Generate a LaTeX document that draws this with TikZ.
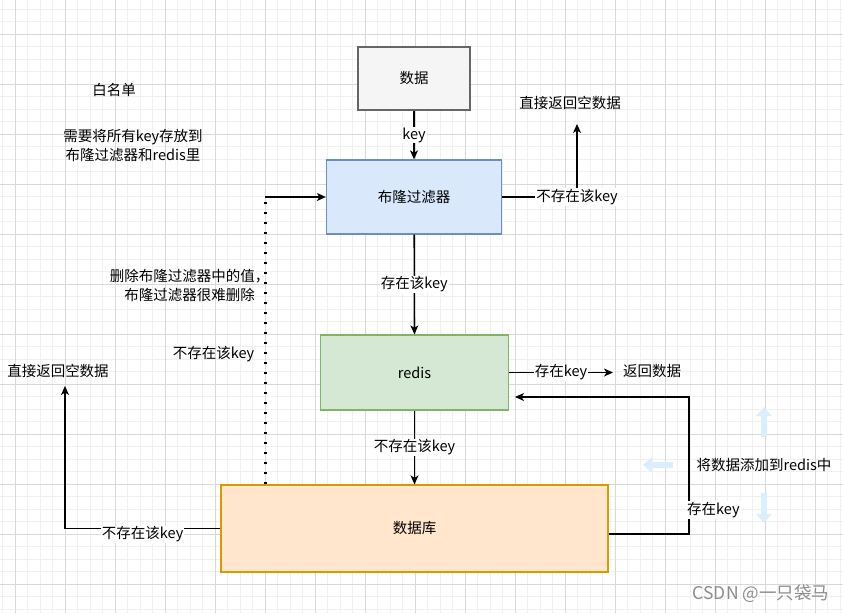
\documentclass[tikz,border=0pt]{standalone}
\usepackage{fontspec}
\setmainfont{Noto Sans CJK SC}
\usetikzlibrary{arrows.meta}
\definecolor{gridminor}{RGB}{240,240,240}
\definecolor{gridmajor}{RGB}{216,216,216}
\definecolor{srcfill}{HTML}{F5F5F5}
\definecolor{srcdraw}{HTML}{666666}
\definecolor{bffill}{HTML}{DAE8FC}
\definecolor{bfdraw}{HTML}{6C8EBF}
\definecolor{rdfill}{HTML}{D5E8D4}
\definecolor{rddraw}{HTML}{82B366}
\definecolor{dbfill}{HTML}{FFE6CC}
\definecolor{dbdraw}{HTML}{D79B00}
\definecolor{hint}{RGB}{218,238,252}
\definecolor{wm}{RGB}{140,140,140}
\begin{document}
\begin{tikzpicture}[x=1pt,y=-1pt,
  every node/.style={font=\fontsize{14.5}{19}\selectfont},
  box/.style={draw, line width=1.3pt, inner sep=0pt},
  arr/.style={line width=1.3pt, -{Stealth[length=9pt,width=8pt,inset=2.5pt]}},
  lbl/.style={fill=white, inner sep=1pt},
  txt/.style={align=center, inner sep=0pt},
  dotline/.style={line width=3pt, dash pattern=on 2.6pt off 7.4pt},
  hintarrow/.style={draw=hint, line width=6pt, -{Triangle[length=9pt,width=15pt]}},
]
\useasboundingbox (0,0) rectangle (843,613);
\fill[white] (0,0) rectangle (843,613);
% grid
\foreach \x in {2.5,15,...,843} \draw[gridminor, line width=1pt] (\x,0) -- (\x,613);
\foreach \y in {9,21.5,...,613} \draw[gridminor, line width=1pt] (0,\y) -- (843,\y);
\foreach \x in {15,65,...,843} \draw[gridmajor, line width=1pt] (\x,0) -- (\x,613);
\foreach \y in {34,84,...,613} \draw[gridmajor, line width=1pt] (0,\y) -- (843,\y);

% main boxes
\node[box, fill=srcfill, draw=srcdraw, minimum width=112pt, minimum height=63pt] (src) at (414,78.5) {数据};
\node[box, fill=bffill, draw=bfdraw, minimum width=175pt, minimum height=74pt] (bf) at (414,197) {布隆过滤器};
\node[box, fill=rdfill, draw=rddraw, minimum width=188pt, minimum height=75pt] (redis) at (414.5,372.5) {redis};
\node[box, fill=dbfill, draw=dbdraw, minimum width=387pt, minimum height=87pt] (db) at (414.5,528.5) {数据库};

% vertical flow
\draw[arr] (src) -- node[lbl]{key} (bf);
\draw[arr] (bf) -- node[lbl]{存在该key} (redis);
\draw[arr] (redis) -- node[lbl]{不存在该key} (db);

% bloom filter: not exist
\coordinate (t1) at (577,124);
\draw[arr] (bf.east) -| node[lbl,pos=0.5]{不存在该key} (t1);
\node[txt] (ret1) at (570,103) {直接返回空数据};

% redis: exists
\coordinate (t2) at (613,372.5);
\draw[arr] (redis.east) -- node[lbl]{存在key} (t2);
\node[txt] (ret2) at (652,371) {返回数据};

% db: exists -> back into redis
\coordinate (c1) at (689,534);
\coordinate (t3) at (515,397);
\draw[arr] (db.east |- c1) -- (c1) -- (c1 |- t3) -- (t3);
\node[lbl, anchor=west] (lblc1) at (686,510) {存在key};
\node[txt] (addtxt) at (764,465) {将数据添加到redis中};

% db: not exist
\coordinate (t4) at (65,386);
\draw[arr] (db.west) -| node[lbl,pos=0.25,yshift=-6pt]{不存在该key} (t4);
\node[txt] (ret3) at (58,371) {直接返回空数据};

% dotted delete path
\coordinate (d1) at (265,197);
\draw[dotline] (d1 |- db.north) -- (d1);
\draw[arr] (d1) -- (bf.west);
\node[txt] (deltxt) at (189.5,285) {删除布隆过滤器中的值，\\布隆过滤器很难删除};
\node[txt] (nokey) at (213.5,354) {不存在该key};

% top-left notes
\node[txt] (white) at (114,90) {白名单};
\node[txt] (note) at (133,146) {需要将所有key存放到\\布隆过滤器和redis里};

% hover hint arrows
\coordinate (h1a) at (764,437); \coordinate (h1b) at (764,407);
\coordinate (h2a) at (764,493); \coordinate (h2b) at (764,523);
\coordinate (h3a) at (673,465); \coordinate (h3b) at (643,465);
\draw[hintarrow] (h1a) -- (h1b);
\draw[hintarrow] (h2a) -- (h2b);
\draw[hintarrow] (h3a) -- (h3b);

% watermark
\node[txt, text=wm, font=\fontsize{17.5}{20}\selectfont] (wmk) at (761,594) {CSDN @一只袋马};
\end{tikzpicture}
\end{document}
